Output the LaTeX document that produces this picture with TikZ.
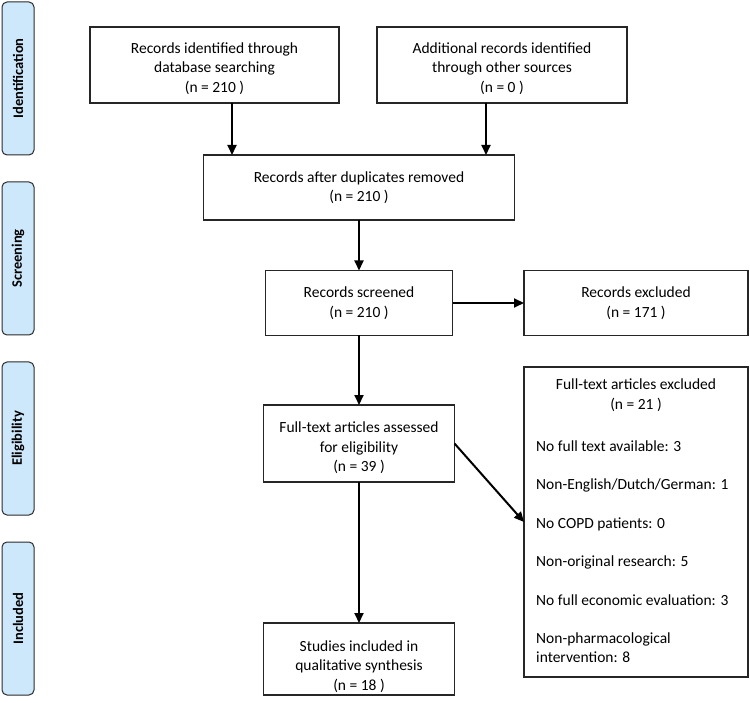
\documentclass[tikz,border=0pt]{standalone}
\usepackage{fontspec}
\setmainfont{Carlito}
\usetikzlibrary{arrows.meta,calc}
\definecolor{stagefill}{HTML}{CDE8FB}
\definecolor{stageline}{HTML}{2B2B2B}
\tikzset{
  x=1pt,y=-1pt,
  box/.style={draw=black!85,line width=1.1pt,align=center,inner sep=0pt,outer sep=0pt,
    font=\fontsize{15.5}{19.5}\selectfont},
  txt/.style={align=center,inner sep=0pt,font=\fontsize{15.5}{19.5}\selectfont},
  stage/.style={draw=stageline,fill=stagefill,line width=1pt,rounded corners=5pt,rotate=90,
    minimum width=153pt,minimum height=32pt,inner sep=0pt,outer sep=0pt,
    font=\fontsize{14.5}{17}\selectfont\bfseries},
  arr/.style={line width=2pt,-{Triangle[length=10pt,width=9pt]}},
  item/.style={anchor=base west,inner sep=0pt,font=\fontsize{15.5}{19.5}\selectfont,align=left},
}
\begin{document}
\begin{tikzpicture}
\useasboundingbox (0,0) rectangle (750,703);
% stage labels
\node[stage] (s1) at (18,78.5) {Identification};
\node[stage] (s2) at (18,258.5) {Screening};
\node[stage] (s3) at (18,438.5) {Eligibility};
\node[stage] (s4) at (18,618.5) {Included};
% boxes
\node[box,minimum width=249pt,minimum height=76pt] (b1) at (214.5,65) {};
\node[txt] (b1t) at ($(b1.center)+(0,3.5)$) {Records identified through\\database searching\\(n = 210 )};
\node[box,minimum width=250pt,minimum height=76pt] (b2) at (502,65) {};
\node[txt] (b2t) at ($(b2.center)+(0,3.5)$) {Additional records identified\\through other sources\\(n = 0 )};
\node[box,minimum width=311pt,minimum height=65pt] (b3) at (359,187.5) {Records after duplicates removed\\(n = 210 )};
\node[box,minimum width=187pt,minimum height=65pt] (b4) at (359,303) {Records screened\\(n = 210 )};
\node[box,minimum width=224pt,minimum height=65pt] (e1) at (636,303) {Records excluded\\(n = 171 )};
\node[box,minimum width=191pt,minimum height=77pt] (b5) at (359,443.5) {};
\node[txt] (b5t) at ($(b5.center)+(0,4.5)$) {Full-text articles assessed\\for eligibility\\(n = 39 )};
\node[box,minimum width=191pt,minimum height=72pt] (b6) at (359,659) {};
\node[txt] (b6t) at ($(b6.center)+(0,7.5)$) {Studies included in\\qualitative synthesis\\(n = 18 )};
\node[box,minimum width=224pt,minimum height=310pt] (e2) at (636,522) {};
% exclusion box text
\node[txt,anchor=north] (e2t) at ($(e2.north)+(0,12)$) {Full-text articles excluded\\(n = 21 )};
\node[item] (i1) at (536,451.5) {No full text available: 3};
\node[item] (i2) at (536,489.5) {Non-English/Dutch/German: 1};
\node[item] (i3) at (536,528) {No COPD patients: 0};
\node[item] (i4) at (536,566.5) {Non-original research: 5};
\node[item] (i5) at (536,605) {No full economic evaluation: 3};
\node[item] (i6) at (536,643.5) {Non-pharmacological};
\node[item] (i7) at (536,662.5) {intervention: 8};
% arrows
\draw[arr] ([xshift=17.5pt]b1.south) -- ([xshift=17.5pt]b1.south |- b3.north);
\draw[arr] ([xshift=-16pt]b2.south) -- ([xshift=-16pt]b2.south |- b3.north);
\draw[arr] (b3.south) -- (b4.north);
\draw[arr] (b4.east) -- (e1.west);
\draw[arr] (b4.south) -- (b5.north);
\draw[arr] (b5.east) -- (e2.west);
\draw[arr] (b5.south) -- (b6.north);
\end{tikzpicture}
\end{document}
